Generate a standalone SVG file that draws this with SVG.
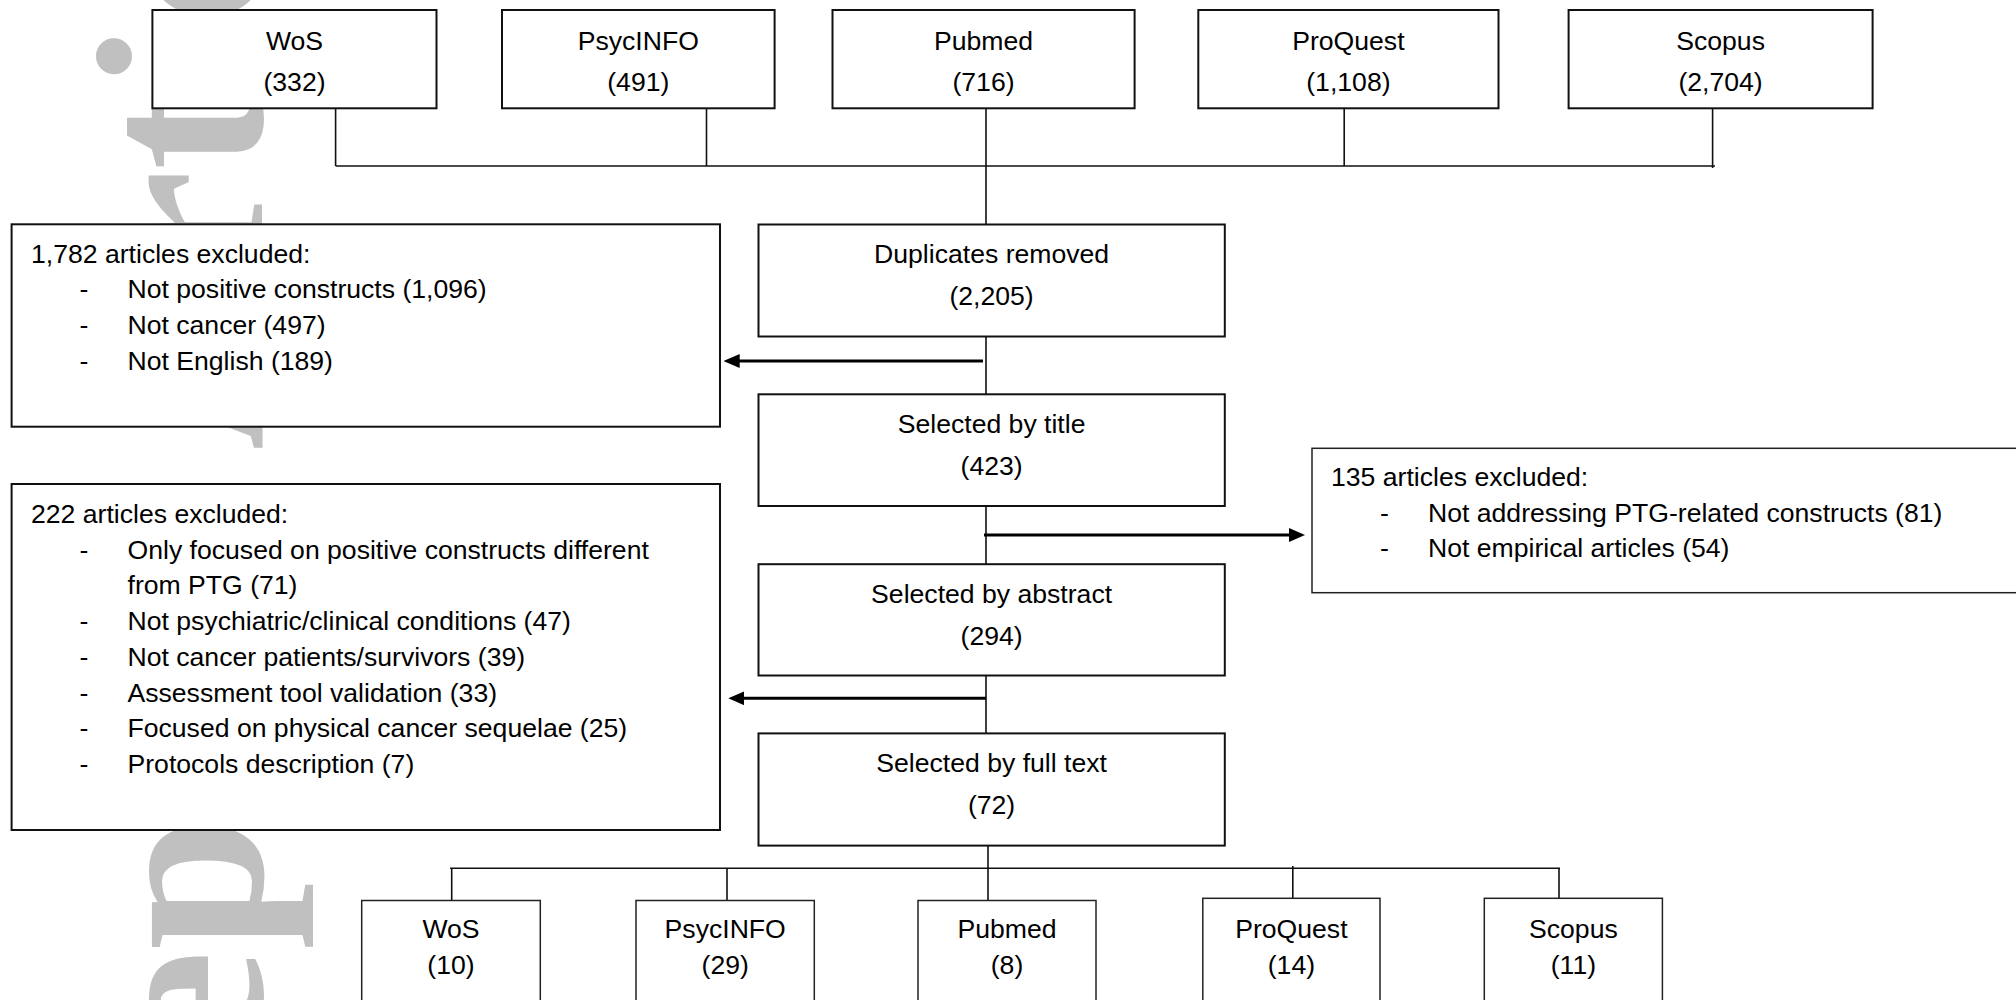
<svg xmlns="http://www.w3.org/2000/svg" width="2016" height="1000" viewBox="0 0 2016 1000">
<defs>
<style>
.bg{fill:#ffffff}
.wm{font-family:"Liberation Serif","Times New Roman",serif;font-size:240px;font-weight:bold;fill:#c0c0c0}
.box{fill:#ffffff;stroke:#111111;stroke-width:2}
.box2{fill:#ffffff;stroke:#222222;stroke-width:1.5}
.t{font-family:"Liberation Sans",Arial,sans-serif;font-size:26.6px;fill:#000000}
.c{text-anchor:middle}
.ln{fill:none;stroke:#111111;stroke-width:1.6}
.ar{fill:none;stroke:#000000;stroke-width:3;marker-end:url(#ah)}
</style>
<marker id="ah" viewBox="0 0 16 14" refX="6" refY="7" markerWidth="16" markerHeight="14" markerUnits="userSpaceOnUse" orient="auto">
<path d="M0,0 L16,7 L0,14 z" fill="#000000"/>
</marker>
</defs>
<rect class="bg" x="0" y="0" width="2016" height="1000"/>
<text class="wm" transform="translate(262,1443) rotate(-90)">Accepted Article</text>

<g id="connectors">
<path class="ln" d="M335.6,108.3 V166 M706.5,108.3 V166 M986,108.3 V224.5 M1344.2,108.3 V166 M1712.6,108.3 V168 M335.6,166 H1715"/>
<path class="ln" d="M986,336.5 V394.3 M986,506 V564.2 M986,675.5 V733.4 M988,845.6 V900.5"/>
<path class="ln" d="M450,868.3 H1560 M451.7,868.3 V900.5 M727,868.3 V900.5 M1292.8,866 V898.3 M1559,868.3 V898.3"/>
<line class="ar" x1="983" y1="361" x2="733.7" y2="361"/>
<line class="ar" x1="984" y1="535" x2="1295" y2="535"/>
<line class="ar" x1="986" y1="698.3" x2="738.3" y2="698.3"/>
</g>

<g id="src-wos">
<rect class="box" x="152.4" y="10" width="284.1" height="98.3"/>
<text class="t c" x="294.5" y="50">WoS</text>
<text class="t c" x="294.5" y="90.5">(332)</text>
</g>
<g id="src-psycinfo">
<rect class="box" x="502" y="10" width="272.6" height="98.3"/>
<text class="t c" x="638.3" y="50">PsycINFO</text>
<text class="t c" x="638.3" y="90.5">(491)</text>
</g>
<g id="src-pubmed">
<rect class="box" x="832.5" y="10" width="302.1" height="98.3"/>
<text class="t c" x="983.5" y="50">Pubmed</text>
<text class="t c" x="983.5" y="90.5">(716)</text>
</g>
<g id="src-proquest">
<rect class="box" x="1198.3" y="10" width="300.2" height="98.3"/>
<text class="t c" x="1348.4" y="50">ProQuest</text>
<text class="t c" x="1348.4" y="90.5">(1,108)</text>
</g>
<g id="src-scopus">
<rect class="box" x="1568.6" y="10" width="304" height="98.3"/>
<text class="t c" x="1720.6" y="50">Scopus</text>
<text class="t c" x="1720.6" y="90.5">(2,704)</text>
</g>

<g id="duplicates">
<rect class="box" x="758.5" y="224.5" width="466.3" height="112"/>
<text class="t c" x="991.6" y="263.3">Duplicates removed</text>
<text class="t c" x="991.6" y="304.5">(2,205)</text>
</g>
<g id="title">
<rect class="box" x="758.5" y="394.3" width="466.3" height="111.7"/>
<text class="t c" x="991.6" y="433.3">Selected by title</text>
<text class="t c" x="991.6" y="474.5">(423)</text>
</g>
<g id="abstract">
<rect class="box" x="758.5" y="564.2" width="466.3" height="111.3"/>
<text class="t c" x="991.6" y="603.3">Selected by abstract</text>
<text class="t c" x="991.6" y="644.5">(294)</text>
</g>
<g id="fulltext">
<rect class="box" x="758.5" y="733.4" width="466.3" height="112.2"/>
<text class="t c" x="991.6" y="772.4">Selected by full text</text>
<text class="t c" x="991.6" y="813.5">(72)</text>
</g>

<g id="excl-1782">
<rect class="box" x="11.6" y="224.3" width="708.4" height="202.4"/>
<text class="t" x="31" y="263.3">1,782 articles excluded:</text>
<text class="t" x="79.5" y="298.3">-</text><text class="t" x="127.5" y="298.3">Not positive constructs (1,096)</text>
<text class="t" x="79.5" y="334.3">-</text><text class="t" x="127.5" y="334.3">Not cancer (497)</text>
<text class="t" x="79.5" y="369.5">-</text><text class="t" x="127.5" y="369.5">Not English (189)</text>
</g>

<g id="excl-222">
<rect class="box" x="11.6" y="484" width="708.4" height="346"/>
<text class="t" x="31" y="523">222 articles excluded:</text>
<text class="t" x="79.5" y="558.7">-</text><text class="t" x="127.5" y="558.7">Only focused on positive constructs different</text>
<text class="t" x="127.5" y="594.4">from PTG (71)</text>
<text class="t" x="79.5" y="630.1">-</text><text class="t" x="127.5" y="630.1">Not psychiatric/clinical conditions (47)</text>
<text class="t" x="79.5" y="665.8">-</text><text class="t" x="127.5" y="665.8">Not cancer patients/survivors (39)</text>
<text class="t" x="79.5" y="701.5">-</text><text class="t" x="127.5" y="701.5">Assessment tool validation (33)</text>
<text class="t" x="79.5" y="737.2">-</text><text class="t" x="127.5" y="737.2">Focused on physical cancer sequelae (25)</text>
<text class="t" x="79.5" y="772.9">-</text><text class="t" x="127.5" y="772.9">Protocols description (7)</text>
</g>

<g id="excl-135">
<rect class="box2" x="1312" y="448.3" width="760" height="144.4"/>
<text class="t" x="1331" y="486">135 articles excluded:</text>
<text class="t" x="1380" y="521.5">-</text><text class="t" x="1428" y="521.5">Not addressing PTG-related constructs (81)</text>
<text class="t" x="1380" y="557">-</text><text class="t" x="1428" y="557">Not empirical articles (54)</text>
</g>

<g id="res-wos">
<rect class="box2" x="361.7" y="900.5" width="178.6" height="120"/>
<text class="t c" x="451" y="938.3">WoS</text>
<text class="t c" x="451" y="973.5">(10)</text>
</g>
<g id="res-psycinfo">
<rect class="box2" x="636" y="900.5" width="178.3" height="120"/>
<text class="t c" x="725.2" y="938.3">PsycINFO</text>
<text class="t c" x="725.2" y="973.5">(29)</text>
</g>
<g id="res-pubmed">
<rect class="box2" x="918" y="900.5" width="178" height="120"/>
<text class="t c" x="1007" y="938.3">Pubmed</text>
<text class="t c" x="1007" y="973.5">(8)</text>
</g>
<g id="res-proquest">
<rect class="box2" x="1202.8" y="898.3" width="177.2" height="120"/>
<text class="t c" x="1291.4" y="937.5">ProQuest</text>
<text class="t c" x="1291.4" y="973.5">(14)</text>
</g>
<g id="res-scopus">
<rect class="box2" x="1484.3" y="898.3" width="178.1" height="120"/>
<text class="t c" x="1573.4" y="937.5">Scopus</text>
<text class="t c" x="1573.4" y="973.5">(11)</text>
</g>
</svg>
